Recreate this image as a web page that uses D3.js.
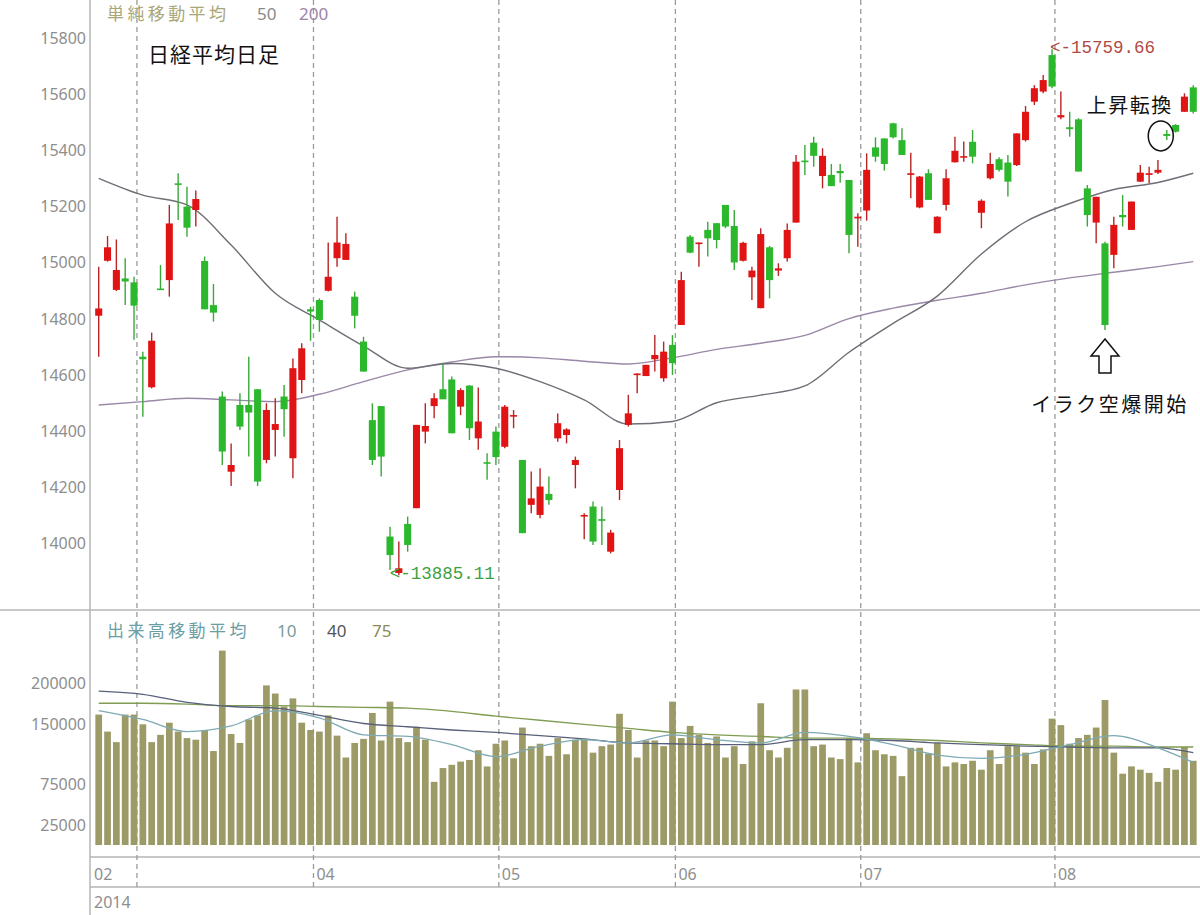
<!DOCTYPE html>
<html><head><meta charset="utf-8">
<script src="https://cdn.jsdelivr.net/npm/d3@7"></script>
<style>
html,body{margin:0;padding:0;background:#fff;}
svg{display:block;}
</style></head><body>
<svg id="c" width="1200" height="915"></svg>
<script>
// ---------- DATA ----------
const tradingDays = [
"02-24","02-25","02-26","02-27","02-28",
"03-03","03-04","03-05","03-06","03-07","03-10","03-11","03-12","03-13","03-14","03-17","03-18","03-19","03-20","03-24","03-25","03-26","03-27","03-28","03-31",
"04-01","04-02","04-03","04-04","04-07","04-08","04-09","04-10","04-11","04-14","04-15","04-16","04-17","04-18","04-21","04-22","04-23","04-24","04-25","04-28","04-30",
"05-01","05-02","05-07","05-08","05-09","05-12","05-13","05-14","05-15","05-16","05-19","05-20","05-21","05-22","05-23","05-26","05-27","05-28","05-29","05-30",
"06-02","06-03","06-04","06-05","06-06","06-09","06-10","06-11","06-12","06-13","06-16","06-17","06-18","06-19","06-20","06-23","06-24","06-25","06-26","06-27","06-30",
"07-01","07-02","07-03","07-04","07-07","07-08","07-09","07-10","07-11","07-14","07-15","07-16","07-17","07-18","07-22","07-23","07-24","07-25","07-28","07-29","07-30","07-31",
"08-01","08-04","08-05","08-06","08-07","08-08","08-11","08-12","08-13","08-14","08-15","08-18","08-19","08-20","08-21","08-22"];

const openP = [14810,15006,14902,14943,14929, 14664,14555,14907,14937,15282, 15199,15187,15005,14848,14522, 14254,14492,14492,14548,14296, 14403,14522,14302,14581,14833, 14866,14899,15015,15009,14878, 14718,14438,14488,14023,13893, 14068,14124,14397,14488,14548, 14583,14486,14561,14373,14288, 14397,14343,14453,14296,14136, 14100,14175,14373,14385,14278, 14094,14130,14085,13969,14189, 14421,14600,14595,14655,14587, 14706,14777,15092,15066,15116, 15140,15205,15130,15006,14947, 14837,15054,14971,15015,15142, 15363,15427,15308,15312,15326, 15294,15157,15185,15410,15442, 15496,15436,15312,15196,15318, 15104,15205,15357,15375,15430, 15177,15300,15368,15356,15347, 15436,15573,15609,15739,15517, 15482,15510,15264,15142,15068, 15027,15169,15116,15288,15312, 15320,15458,15490,15537,15624];
const highP = [14985,15094,15082,15015,14949, 14682,14750,14991,15205,15318, 15270,15256,15021,14923,14540, 14355,14534,14664,14548,14498, 14516,14563,14658,14712,14842, 14872,15071,15163,15104,14896, 14735,14498,14488,14058,14005, 14094,14421,14498,14534,14640, 14593,14552,14563,14554,14320, 14415,14492,14474,14296,14255, 14266,14237,14462,14409,14308, 14106,14148,14130,14047,14367, 14528,14605,14635,14741,14718, 14741,14967,15098,15071,15145, 15140,15205,15187,15074,14985, 15122,15059,14997,15139,15383, 15419,15448,15407,15351,15351, 15294,15175,15389,15446,15442, 15498,15478,15391,15308,15332, 15165,15332,15448,15431,15472, 15225,15391,15375,15383,15460, 15558,15632,15668,15759.66,15609, 15537,15514,15276,15234,15074, 15163,15240,15217,15347,15341, 15365,15472,15493,15603,15632];
const lowP = [14664,15003,14898,14848,14724, 14450,14551,14902,14878,15151, 15092,15128,14833,14789,14278, 14203,14403,14308,14203,14284, 14308,14379,14231,14534,14721, 14753,14896,14985,15009,14765, 14611,14278,14237,13904,13885.11, 13969,14124,14355,14445,14516, 14391,14456,14367,14332,14225, 14278,14338,14409,14035,14106, 14088,14136,14361,14355,14195, 14013,13993,13993,13963,14153, 14415,14534,14595,14611,14575, 14599,14777,15033,14985,15021, 15050,15122,14973,15003,14866, 14837,14872,14952,15003,15142, 15312,15341,15264,15272,15284, 15033,15056,15149,15359,15327, 15442,15383,15229,15193,15223, 15104,15185,15356,15359,15353, 15122,15296,15324,15235,15344, 15431,15561,15603,15621,15510, 15448,15324,15128,15068,14759, 14979,15128,15116,15287,15282, 15315,15436,15463,15536,15531];
const closeP = [14836,15054,14973,14932,14846, 14655,14721,14904,15139,15278, 15124,15226,14833,14821,14326, 14278,14415,14465,14219,14474, 14424,14477,14623,14694,14825, 14795,14949,15071,15066,14810, 14611,14296,14308,13957,13910, 13993,14421,14417,14516,14512, 14391,14545,14409,14433,14285, 14306,14486,14456,14035,14159, 14201,14153,14427,14405,14296, 14100,14005,14079,14037,14338, 14462,14604,14635,14670,14682, 14641,14937,15035,15071,15086, 15080,15128,15000,15070,14971, 15101,14937,14979,15116,15359, 15358,15380,15380,15272,15318, 15098,15163,15330,15377,15351, 15446,15383,15318,15306,15223, 15163,15300,15398,15379,15377, 15220,15351,15330,15288,15460, 15537,15621,15650,15627,15525, 15475,15324,15169,15234,14777, 15134,15161,15217,15320,15318, 15330,15451,15466,15591,15537];
const volume = [161000,140000,127000,161000,161000, 149000,127000,136000,151000,140000, 132000,130000,142000,116000,240000, 137000,126000,155000,160000,197000, 187000,171000,181000,151000,142000, 140000,160000,135000,108000,126000, 131000,163000,129000,177000,132000, 127000,146000,130000,78000,95000, 99000,103000,105000,117000,97000, 125000,129000,107000,145000,122000, 125000,110000,132000,112000,130000, 130000,114000,122000,124000,162000, 142000,108000,129000,129000,122000, 177000,132000,147000,136000,126000, 134000,108000,122000,100000,128000, 175000,117000,108000,120000,192000, 192000,122000,124000,108000,106000, 132000,102000,138000,117000,112000, 110000,85000,120000,120000,113000, 126000,97000,102000,100000,104000, 93000,117000,100000,122000,122000, 114000,100000,118000,156000,148000, 125000,132000,136000,145000,179000, 114000,88000,97000,93000,89000, 78000,95000,93000,121000,104000];

const maIndex = [0,5,10,15,20,25,30,35,40,45,50,55,60,65,70,75,80,85,90,95,100,105,110,115,120,124];
const ma50  = [15300,15240,15205,15062,14890,14795,14702,14623,14640,14623,14575,14510,14424,14433,14500,14527,14560,14680,14783,14880,15030,15145,15210,15260,15285,15318];
const ma200 = [14492,14504,14516,14510,14504,14530,14575,14617,14645,14664,14660,14648,14638,14660,14690,14712,14740,14800,14837,14865,14890,14920,14945,14965,14985,15003];
const vma10 = [166000,155000,140000,147000,166000,157000,136000,134000,124000,109000,122000,130000,126000,136000,130000,126000,139000,134000,124000,111000,107000,112000,124000,135000,120000,102000];
const vma40 = [190000,186000,176000,171000,169000,160000,150000,146000,142000,139000,135000,131000,126000,125000,124000,124000,130000,130000,129000,126000,124000,122000,121000,120000,120000,114000];
const vma75 = [175000,175000,174000,172000,172000,171000,170000,169000,165000,159000,154000,149000,144000,139000,136000,134000,132000,132000,131000,129000,126000,124000,122000,122000,121000,121000];

const priceTicks = [15800,15600,15400,15200,15000,14800,14600,14400,14200,14000];
const volTicks = [200000,150000,75000,25000];
const gridMonths = ["03","04","05","06","07","08"];
const monthLabels = ["02","04","05","06","07","08"];
const yearLabel = "2014";

// ---------- SCALES ----------
const svg = d3.select("#c");
const W = 1200, H = 915, axisX = 90;
const x = d3.scaleBand().domain(tradingDays).range([94.3, 94.3 + tradingDays.length * 8.827]);
const cx = d => x(d) + x.bandwidth() / 2;
const y = d3.scaleLinear().domain([13800, 15800]).range([599.1, 38]);
const yv = d3.scaleLinear().domain([0, 200000]).range([845, 683]);

const firstOfMonth = m => tradingDays.find(d => d.startsWith(m + "-"));
const gridX = m => x(firstOfMonth(m)) - 1.5;

// ---------- FRAME ----------
const frame = svg.append("g").attr("stroke", "#b4b4b4").attr("stroke-width", 1.5);
frame.append("line").attr("x1", 0).attr("x2", W).attr("y1", 610).attr("y2", 610);
frame.append("line").attr("x1", axisX).attr("x2", W).attr("y1", 857).attr("y2", 857);
frame.append("line").attr("x1", axisX).attr("x2", W).attr("y1", 887).attr("y2", 887);
frame.append("line").attr("x1", axisX).attr("x2", axisX).attr("y1", 0).attr("y2", H);

// month dashed gridlines
svg.append("g").selectAll("line").data(gridMonths).join("line")
  .attr("x1", gridX).attr("x2", gridX)
  .attr("y1", 0).attr("y2", 887)
  .attr("stroke", "#9a9a9a").attr("stroke-width", 1.3).attr("stroke-dasharray", "5,4");

// ---------- AXIS LABELS ----------
const tickFont = "'Noto Sans', sans-serif";
svg.append("g").selectAll("text").data(priceTicks).join("text")
  .attr("x", 86).attr("y", d => y(d)).attr("text-anchor", "end").attr("dominant-baseline", "central")
  .attr("font-family", tickFont).attr("font-size", 16).attr("fill", "#8e8e8e").text(d => d);
svg.append("g").selectAll("text").data(volTicks).join("text")
  .attr("x", 86).attr("y", d => yv(d)).attr("text-anchor", "end").attr("dominant-baseline", "central")
  .attr("font-family", tickFont).attr("font-size", 16).attr("fill", "#8e8e8e").text(d => d);
svg.append("g").selectAll("text").data(monthLabels).join("text")
  .attr("x", m => m === "02" ? axisX + 4 : gridX(m) + 3)
  .attr("y", 874).attr("dominant-baseline", "central")
  .attr("font-family", tickFont).attr("font-size", 16).attr("fill", "#8e8e8e").text(d => d);
svg.append("text").attr("x", axisX + 4).attr("y", 902).attr("dominant-baseline", "central")
  .attr("font-family", tickFont).attr("font-size", 16).attr("fill", "#8e8e8e").text(yearLabel);

// ---------- MOVING AVERAGES (price) ----------
const maLine = (yS) => d3.line().x(d => cx(tradingDays[d[0]])).y(d => yS(d[1])).curve(d3.curveMonotoneX);
const pts = arr => maIndex.map((k, j) => [k, arr[j]]);
svg.append("path").attr("d", maLine(y)(pts(ma200))).attr("fill", "none").attr("stroke", "#9a88a8").attr("stroke-width", 1.4);
svg.append("path").attr("d", maLine(y)(pts(ma50))).attr("fill", "none").attr("stroke", "#6e6e76").attr("stroke-width", 1.4);

// ---------- CANDLES ----------
const RED = "#e01414", GREEN = "#2cb82c";
const candles = tradingDays.map((d, i) => ({d, o: openP[i], h: highP[i], l: lowP[i], c: closeP[i]}));
const cg = svg.append("g").selectAll("g").data(candles).join("g");
cg.append("line")
  .attr("x1", k => cx(k.d)).attr("x2", k => cx(k.d))
  .attr("y1", k => y(k.h)).attr("y2", k => y(k.l))
  .attr("stroke", k => k.c >= k.o ? "#b92424" : "#38a838").attr("stroke-width", 1.4);
const bw = x.bandwidth() * 0.8;
cg.append("rect")
  .attr("x", k => cx(k.d) - bw / 2).attr("width", bw)
  .attr("y", k => y(Math.max(k.o, k.c)))
  .attr("height", k => Math.max(1.6, Math.abs(y(k.o) - y(k.c))))
  .attr("fill", k => k.c >= k.o ? RED : GREEN);

// ---------- VOLUME ----------
const vw = x.bandwidth() * 0.76;
svg.append("g").selectAll("rect").data(tradingDays).join("rect")
  .attr("x", d => cx(d) - vw / 2).attr("width", vw)
  .attr("y", (d, i) => yv(volume[i])).attr("height", (d, i) => yv(0) - yv(volume[i]))
  .attr("fill", "#9c9a66");
svg.append("path").attr("d", maLine(yv)(pts(vma75))).attr("fill", "none").attr("stroke", "#7f9c52").attr("stroke-width", 1.3);
svg.append("path").attr("d", maLine(yv)(pts(vma40))).attr("fill", "none").attr("stroke", "#59607a").attr("stroke-width", 1.3);
svg.append("path").attr("d", maLine(yv)(pts(vma10))).attr("fill", "none").attr("stroke", "#7eaab4").attr("stroke-width", 1.3);

// ---------- LEGENDS ----------
const jp = "'Noto Sans CJK JP', sans-serif";
svg.append("text").attr("x", 107).attr("y", 20).attr("font-family", jp).attr("font-size", 17)
  .attr("letter-spacing", "3.4px").attr("fill", "#a9a678").text("単純移動平均");
svg.append("text").attr("x", 257).attr("y", 20).attr("font-family", tickFont).attr("font-size", 17).attr("fill", "#8a8a8a").text("50");
svg.append("text").attr("x", 299).attr("y", 20).attr("font-family", tickFont).attr("font-size", 17).attr("fill", "#9a84a6").text("200");
svg.append("text").attr("x", 148).attr("y", 62).attr("font-family", jp).attr("font-size", 21)
  .attr("letter-spacing", "1px").attr("fill", "#111").text("日経平均日足");

svg.append("text").attr("x", 107).attr("y", 637).attr("font-family", jp).attr("font-size", 17)
  .attr("letter-spacing", "3.4px").attr("fill", "#6a9ea4").text("出来高移動平均");
svg.append("text").attr("x", 277).attr("y", 637).attr("font-family", tickFont).attr("font-size", 17).attr("fill", "#7a9c9c").text("10");
svg.append("text").attr("x", 327).attr("y", 637).attr("font-family", tickFont).attr("font-size", 17).attr("fill", "#555").text("40");
svg.append("text").attr("x", 372).attr("y", 637).attr("font-family", tickFont).attr("font-size", 17).attr("fill", "#8b8a55").text("75");

// ---------- ANNOTATIONS ----------
const iMax = d3.maxIndex(highP), iMin = d3.minIndex(lowP);
svg.append("text").attr("x", cx(tradingDays[iMax]) - 2).attr("y", y(highP[iMax]) - 1)
  .attr("dominant-baseline", "central").attr("font-family", "'Liberation Mono', monospace").attr("font-size", 17.5)
  .attr("fill", "#b04a44").text("<-" + highP[iMax].toFixed(2));
svg.append("text").attr("x", cx(tradingDays[iMin]) - 9).attr("y", y(lowP[iMin]) - 1)
  .attr("dominant-baseline", "central").attr("font-family", "'Liberation Mono', monospace").attr("font-size", 17.5)
  .attr("fill", "#3fa03f").text("<-" + lowP[iMin].toFixed(2));

// uptrend turn
const iTurn = tradingDays.indexOf("08-19");
svg.append("ellipse").attr("cx", cx(tradingDays[iTurn]) - 6).attr("cy", y(closeP[iTurn]))
  .attr("rx", 12.5).attr("ry", 15).attr("fill", "none").attr("stroke", "#111").attr("stroke-width", 1.5);
svg.append("text").attr("x", cx(tradingDays[iTurn]) - 80).attr("y", 113).attr("font-family", jp).attr("font-size", 20)
  .attr("letter-spacing", "1.5px").attr("fill", "#111").text("上昇転換");

// Iraq airstrike arrow
const iIraq = tradingDays.indexOf("08-08");
const ax = cx(tradingDays[iIraq]), at = y(lowP[iIraq]) + 9;
svg.append("path")
  .attr("d", `M${ax},${at} L${ax - 14},${at + 17} L${ax - 6},${at + 17} L${ax - 6},${at + 34} L${ax + 6},${at + 34} L${ax + 6},${at + 17} L${ax + 14},${at + 17} Z`)
  .attr("fill", "#fff").attr("stroke", "#111").attr("stroke-width", 1.5);
svg.append("text").attr("x", ax + 5).attr("y", at + 73).attr("text-anchor", "middle").attr("font-family", jp).attr("font-size", 20)
  .attr("letter-spacing", "2.5px").attr("fill", "#111").text("イラク空爆開始");
</script>
</body></html>
